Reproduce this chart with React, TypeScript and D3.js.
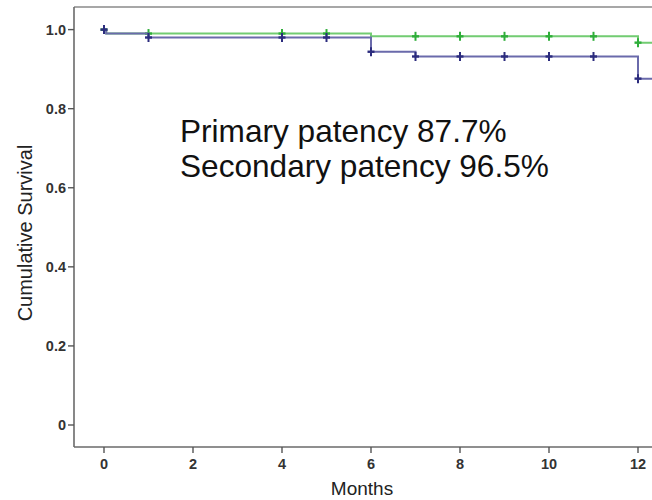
import React from "react";
import * as d3 from "d3";

const monthTicks = [0, 2, 4, 6, 8, 10, 12];
const survivalTicks = [0, 0.2, 0.4, 0.6, 0.8, 1.0];
const survivalTickLabels = ["0", "0.2", "0.4", "0.6", "0.8", "1.0"];

const primaryTimes = [0, 0.05, 1, 6, 7, 12, 12.6];
const primaryValues = [1.0, 0.99, 0.98, 0.944, 0.932, 0.876, 0.876];
const primaryCensored = [0, 1, 4, 5, 6, 7, 8, 9, 10, 11, 12];

const secondaryTimes = [0, 0.05, 6, 12, 12.6];
const secondaryValues = [1.0, 0.99, 0.983, 0.967, 0.967];
const secondaryCensored = [0, 1, 4, 5, 7, 8, 9, 10, 11, 12];

const annotations = ["Primary patency 87.7%", "Secondary patency 96.5%"];

const W = 652;
const H = 500;
const FONT = "'Liberation Sans', Arial, sans-serif";

function valueAt(times: number[], values: number[], t: number) {
  let v = values[0];
  for (let i = 0; i < times.length; i++) if (times[i] <= t) v = values[i];
  return v;
}

export default function App() {
  const x = d3.scaleLinear().domain([0, 12]).range([104, 638]);
  const y = d3.scaleLinear().domain([0, 1]).range([425, 29.6]);
  const line = d3
    .line<[number, number]>()
    .x((d) => x(d[0]))
    .y((d) => y(d[1]))
    .curve(d3.curveStepAfter);

  const series = [
    { times: secondaryTimes, values: secondaryValues, cens: secondaryCensored, line: "#72cc72", mark: "#2fae3a" },
    { times: primaryTimes, values: primaryValues, cens: primaryCensored, line: "#6a6aab", mark: "#2c2c7e" },
  ];

  const left = 74;
  const bottom = 447;
  const top = 7;

  return (
    <svg width={W} height={H} style={{ position: "absolute", left: 0, top: 0, background: "#fff" }}>
      <defs>
        <clipPath id="plot">
          <rect x={left} y={top} width={W - left} height={bottom - top} />
        </clipPath>
      </defs>
      {/* frame */}
      <line x1={left} x2={W} y1={top} y2={top} stroke="#8a8a8a" strokeWidth={1.6} />
      <line x1={left} x2={left} y1={top} y2={bottom} stroke="#6a6a6a" strokeWidth={1.6} />
      <line x1={left} x2={W} y1={bottom} y2={bottom} stroke="#6a6a6a" strokeWidth={1.6} />

      {/* y ticks */}
      {survivalTicks.map((v, i) => (
        <g key={"y" + i}>
          <line x1={left - 6} x2={left} y1={y(v)} y2={y(v)} stroke="#555" strokeWidth={1.4} />
          <text
            x={left - 8}
            y={y(v)}
            dy="0.35em"
            textAnchor="end"
            fontFamily={FONT}
            fontSize={14.5}
            fontWeight="bold"
            fill="#333"
          >
            {survivalTickLabels[i]}
          </text>
        </g>
      ))}

      {/* x ticks */}
      {monthTicks.map((m) => (
        <g key={"x" + m}>
          <line x1={x(m)} x2={x(m)} y1={bottom} y2={bottom + 6} stroke="#555" strokeWidth={1.4} />
          <text x={x(m)} y={469} textAnchor="middle" fontFamily={FONT} fontSize={14.5} fontWeight="bold" fill="#333">
            {m}
          </text>
        </g>
      ))}

      {/* axis titles */}
      <text x={362} y={495} textAnchor="middle" fontFamily={FONT} fontSize={19} fill="#222">
        Months
      </text>
      <text
        transform={`translate(32,233) rotate(-90)`}
        textAnchor="middle"
        fontFamily={FONT}
        fontSize={20}
        fill="#222"
      >
        Cumulative Survival
      </text>

      {/* curves */}
      <g clipPath="url(#plot)">
        {series.map((s, si) => {
          const pts: [number, number][] = s.times.map((t, i) => [t, s.values[i]]);
          return (
            <g key={"s" + si}>
              <path d={line(pts) || ""} fill="none" stroke={s.line} strokeWidth={2} />
              {s.cens.map((t, ci) => {
                const v = valueAt(s.times, s.values, t);
                const cx = x(t);
                const cy = y(v);
                return (
                  <g key={"c" + ci} stroke={s.mark}>
                    <line x1={cx} x2={cx} y1={cy - 4.5} y2={cy + 4.5} strokeWidth={2} />
                    <line x1={cx - 3.5} x2={cx + 3.5} y1={cy} y2={cy} strokeWidth={2.4} />
                  </g>
                );
              })}
            </g>
          );
        })}
      </g>

      {/* annotation */}
      {annotations.map((a, i) => (
        <text key={"a" + i} x={180} y={142 + i * 35} fontFamily={FONT} fontSize={31.6} fill="#111">
          {a}
        </text>
      ))}
    </svg>
  );
}
